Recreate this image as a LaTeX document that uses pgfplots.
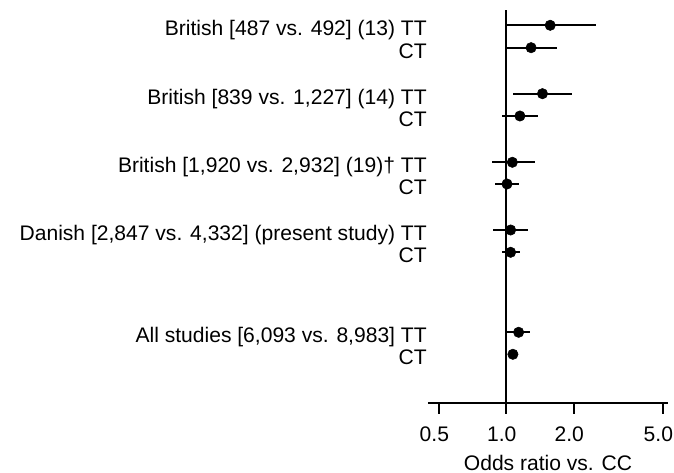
\documentclass[border=0pt]{standalone}
\usepackage{fontspec}
\setmainfont{Liberation Sans}
\usepackage{pgfplots}
\usepackage{pgfplotstable}
\pgfplotsset{compat=1.18}
% y = row position (px from top, negated), or = odds ratio, lo/hi = 95% CI
\pgfplotstableread{
y       or     lo     hi
-25.3   1.57   1.00   2.52
-47.7   1.29   1.00   1.68
-93.7   1.45   1.07   1.97
-116.0  1.15   0.957  1.38
-162.3  1.064  0.86   1.34
-184.0  1.007  0.89   1.135
-230.0  1.045  0.87   1.25
-252.3  1.045  0.957  1.15
-332.3  1.135  1.00   1.28
-354.3  1.07   1.03   1.11
}\forest
\pgfplotstablecreatecol[expr={\thisrow{hi}-\thisrow{or}}]{ep}\forest
\pgfplotstablecreatecol[expr={\thisrow{or}-\thisrow{lo}}]{em}\forest
\begin{document}
\begin{tikzpicture}[font=\fontsize{15.8pt}{19pt}\selectfont]
\begin{axis}[
  scale only axis,
  width=180pt, height=294.75pt,
  xmode=log,
  xmin=0.447, xmax=5.27,
  ymin=-403, ymax=-10,
  separate axis lines,
  axis x line*=bottom,
  axis y line*=left,
  y axis line style={draw=none},
  x axis line style={line width=1.5pt, -},
  xtick={0.5,1,2,5},
  xticklabels={0.5,1.0,2.0,5.0},
  minor xtick={},
  log basis x=10,
  xminorticks=false,
  tick align=outside,
  major tick length=8.25pt,
  xtick style={line width=1.5pt, black},
  ytick={-354.3,-332.3,-252.3,-230,-184,-162.3,-116,-93.7,-47.7,-25.3},
  yticklabels={CT,{All studies [6,093 vs. 8,983] TT},CT,{Danish [2,847 vs. 4,332] (present study) TT},CT,{British [1,920 vs. 2,932] (19)† TT},CT,{British [839 vs. 1,227] (14) TT},CT,{British [487 vs. 492] (13) TT}},
  y tick style={draw=none},
  /pgf/number format/assume math mode=true,
  tick label style={font=\fontsize{15.8pt}{19pt}\selectfont},
  yticklabel style={anchor=base east, inner sep=0pt, xshift=7.5pt, yshift=-8pt},
  xticklabel style={anchor=base, inner sep=0pt, yshift=-20.5pt, xshift=-3.4pt},
  xlabel={Odds ratio vs. CC},
  every axis x label/.style={at={(axis description cs:0.5,0)}, anchor=base, yshift=-50.5pt, font=\fontsize{15.8pt}{19pt}\selectfont},
  clip=false,
]
\coordinate (O) at (rel axis cs:0,0);
\addplot[black, line width=1.5pt] coordinates {(1,-403) (1,-10)};
\addplot[only marks, mark=*, mark size=3.9pt, black,
  error bars/.cd, x dir=both, x explicit, error mark=none,
  error bar style={line width=1.5pt, black}]
  table[x=or, y=y, x error plus=ep, x error minus=em]{\forest};
\end{axis}
\path (O) ++(-321pt,-52.5pt) coordinate (BL);
\path (O) ++(184.5pt,302.25pt) coordinate (TR);
\pgfresetboundingbox
\path[use as bounding box] (BL) rectangle (TR);
\end{tikzpicture}
\end{document}
